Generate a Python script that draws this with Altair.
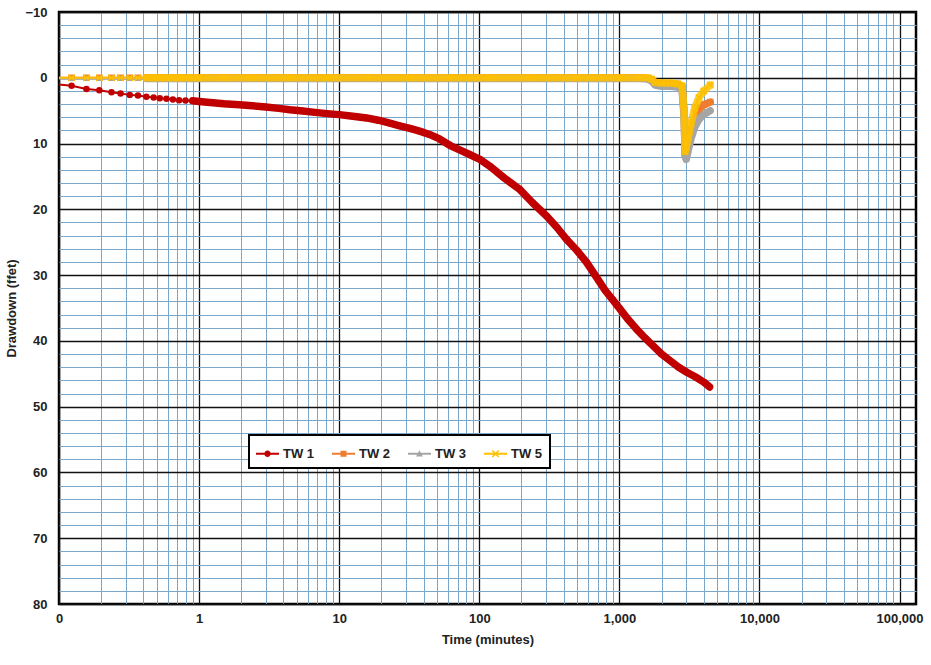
import altair as alt
import pandas as pd

series_names = ["TW 1", "TW 2", "TW 3", "TW 5"]
series_colors = ["#C00000", "#ED7D31", "#A5A5A5", "#FFC000"]

# TW 1 (time in minutes, drawdown in feet)
tw1_t = [0.083, 0.123, 0.157, 0.194, 0.237, 0.275, 0.32, 0.366, 0.42, 0.474, 0.524, 0.585,
         0.65, 0.72, 0.8, 0.9, 1.0, 1.2, 1.5, 1.94, 2.4, 3.0, 3.7, 4.45, 5.5, 6.7, 8.2, 10,
         12.5, 15.7, 19, 23, 27, 32, 38, 44.5, 52, 62, 73, 86, 101, 120, 150, 195, 240, 302,
         360, 421, 500, 585, 680, 790, 900, 1015, 1160, 1325, 1530, 1750, 2000, 2300, 2650,
         3050, 3500, 4030, 4400]
tw1_dd = [0.85, 1.2, 1.7, 1.9, 2.2, 2.4, 2.6, 2.7, 2.9, 3.0, 3.1, 3.2,
          3.3, 3.4, 3.45, 3.5, 3.6, 3.75, 3.95, 4.1, 4.25, 4.45, 4.65, 4.86, 5.05, 5.26, 5.45, 5.6,
          5.85, 6.1, 6.45, 6.9, 7.3, 7.7, 8.15, 8.65, 9.3, 10.3, 11.0, 11.7, 12.4, 13.5, 15.2, 17.0, 19.0, 21.0,
          22.8, 24.6, 26.3, 28.1, 30.2, 32.3, 33.8, 35.2, 36.8, 38.2, 39.6, 40.8, 42.0, 43.0, 44.0,
          44.8, 45.5, 46.3, 47.0]

# Observation wells share one time base
obs_t = [0.083, 0.123, 0.157, 0.194, 0.237, 0.275, 0.32, 0.366, 0.42, 0.474, 0.524, 0.585,
         0.65, 0.72, 0.8, 0.9, 1.0, 1.5, 2.4, 4.45, 8.2, 15.7, 32, 62, 120, 240, 500, 1015,
         1400, 1600, 1700, 1800, 2000, 2300, 2600, 2800, 2900, 2950, 3000, 3100, 3250, 3450,
         3700, 4000, 4450]
tw2_dd = [0.0] * 28 + [0.0, 0.1, 0.3, 0.8, 0.9, 0.9, 1.0, 1.3, 5.5, 11.8, 11.6, 10.0, 8.0, 6.2,
                       4.8, 4.1, 3.7]
tw3_dd = [0.1] * 28 + [0.1, 0.2, 0.5, 1.1, 1.3, 1.3, 1.4, 1.8, 6.0, 12.0, 12.4, 11.0, 9.2, 7.5,
                       6.3, 5.6, 5.0]
tw5_dd = [0.0] * 28 + [0.0, 0.0, 0.2, 0.7, 0.8, 0.8, 0.9, 1.2, 5.0, 11.2, 10.6, 9.0, 7.0, 4.6,
                       3.0, 2.0, 1.1]

x_ticks = [k * 10.0 ** d for d in range(-1, 5) for k in range(1, 10)] + [100000.0]
y_ticks = list(range(-10, 81, 2))

FONT = "Liberation Sans, Arial, sans-serif"
MINOR = "#7BA7CB"
dec_test = "abs(log(datum.value)/LN10 - round(log(datum.value)/LN10)) < 0.001"

x_enc = alt.X(
    "t:Q",
    scale=alt.Scale(type="log", domain=[0.1, 131000], nice=False),
    axis=alt.Axis(
        values=x_ticks,
        labelExpr=dec_test + " ? (datum.value < 0.5 ? '0' : format(datum.value, ',')) : ''",
        grid=True,
        gridColor={"condition": {"test": dec_test, "value": "#111111"}, "value": MINOR},
        gridWidth={"condition": {"test": dec_test, "value": 1.3}, "value": 1},
        ticks=False, domain=False, labelOverlap=False, labelFlush=False, labelBound=False,
        labelFont=FONT, labelFontSize=13, labelFontWeight="bold", labelColor="#222222",
        labelPadding=8, title="Time (minutes)", titleFont=FONT, titleFontSize=13,
        titleFontWeight="bold", titleColor="#222222", titlePadding=8,
    ),
)
y_enc = alt.Y(
    "dd:Q",
    scale=alt.Scale(domain=[-10, 80], reverse=True, nice=False, zero=False),
    axis=alt.Axis(
        values=y_ticks,
        labelExpr="datum.value % 10 == 0 ? format(datum.value, 'd') : ''",
        grid=True,
        gridColor={"condition": {"test": "datum.value % 10 == 0", "value": "#111111"}, "value": MINOR},
        gridWidth={"condition": {"test": "datum.value % 10 == 0", "value": 1.3}, "value": 1},
        ticks=False, domain=False, labelOverlap=False, labelFlush=False, labelBound=False,
        labelFont=FONT, labelFontSize=13, labelFontWeight="bold", labelColor="#222222",
        labelPadding=12, title="Drawdown (ffet)", titleFont=FONT, titleFontSize=13,
        titleFontWeight="bold", titleColor="#222222", titlePadding=6,
    ),
)

frames = [
    pd.DataFrame({"t": tw1_t, "dd": tw1_dd}),
    pd.DataFrame({"t": obs_t, "dd": tw2_dd}),
    pd.DataFrame({"t": obs_t, "dd": tw3_dd}),
    pd.DataFrame({"t": obs_t, "dd": tw5_dd}),
]
band_start = [0.9, 0.4, 0.4, 0.4]
band_opacity = [1.0, 1.0, 1.0, 0.85]

layers = []
for i, df in enumerate(frames):
    col = series_colors[i]
    base = alt.Chart(df).encode(x=x_enc, y=y_enc)
    layers.append(base.mark_line(color=col, strokeWidth=2, clip=True))
    layers.append(
        base.transform_filter(f"datum.t >= {band_start[i]}").mark_line(
            color=col, strokeWidth=7.5, strokeCap="round", strokeJoin="round",
            opacity=band_opacity[i], clip=True)
    )
    if i == 0:
        pts = base.mark_point(shape="circle", filled=True, size=42, color=col, opacity=1, clip=True)
    elif i == 1:
        pts = base.mark_point(shape="square", filled=True, size=42, color=col, opacity=1, clip=True)
    elif i == 2:
        pts = base.mark_point(shape="triangle-up", filled=True, size=36, color=col, opacity=1, clip=True)
    else:
        pts = base.mark_point(shape="M-1,-1L1,1M-1,1L1,-1", filled=False, size=40, strokeWidth=1.5,
                              color=col, opacity=1, clip=True)
    layers.append(pts)

# legend symbols: line segment + marker
line_seg = "M-1,-0.09L1,-0.09L1,0.09L-1,0.09Z"
a, d = 0.28, 0.05
legend_paths = [
    line_seg + "M-0.28,0A0.28,0.28 0 1,1 0.28,0A0.28,0.28 0 1,1 -0.28,0Z",
    line_seg + "M-0.26,-0.26L0.26,-0.26L0.26,0.26L-0.26,0.26Z",
    line_seg + "M0,-0.3L0.3,0.24L-0.3,0.24Z",
    line_seg
    + f"M{-a + d},{-a - d}L{a + d},{a - d}L{a - d},{a + d}L{-a - d},{-a + d}Z"
    + f"M{-a - d},{a - d}L{a - d},{-a - d}L{a + d},{-a + d}L{-a + d},{a + d}Z",
]

legend_spec = alt.Legend(
    title=None, orient="none", legendX=190, legendY=423, direction="horizontal",
    fillColor="white", strokeColor="black", padding=7, symbolSize=529,
    symbolStrokeWidth=0, symbolOpacity=1, labelFont=FONT, labelFontSize=13,
    labelFontWeight="bold", labelColor="#222222", labelOffset=4, columnPadding=17,
)
legend_df = pd.DataFrame({"series": series_names, "t": [1.0] * 4, "dd": [0.0] * 4})
legend_layer = alt.Chart(legend_df).transform_filter("false").mark_point(
    filled=True, opacity=1
).encode(
    x=x_enc, y=y_enc,
    color=alt.Color("series:N", scale=alt.Scale(domain=series_names, range=series_colors),
                    legend=legend_spec),
    shape=alt.Shape("series:N", scale=alt.Scale(domain=series_names, range=legend_paths),
                    legend=legend_spec),
)
layers.append(legend_layer)

chart = alt.layer(*layers).properties(
    width=857, height=592,
    autosize=alt.AutoSizeParams(type="none"),
    padding={"left": 59, "top": 12, "right": 15, "bottom": 61},
    background="white",
).configure_view(stroke="black", strokeWidth=2.5).configure_legend(strokeWidth=2)

chart.save("out.html", embed_options={"renderer": "svg", "actions": False})
